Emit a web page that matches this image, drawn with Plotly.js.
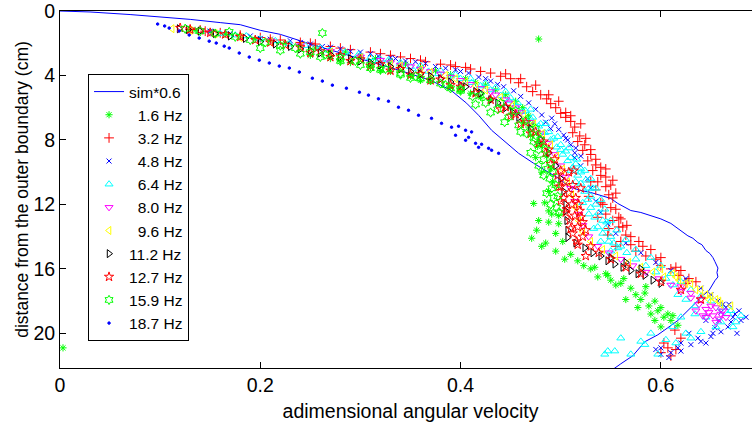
<!DOCTYPE html>
<html>
<head>
<meta charset="utf-8">
<script src="https://cdn.plot.ly/plotly-3.0.1.min.js"></script>
<style>
html,body{margin:0;padding:0;background:#fff;overflow:hidden;width:752px;height:436px;}
#chart{width:770px;height:436px;}
</style>
</head>
<body>
<div id="chart"></div>
<script>
// ---- data ----
const legendNames = ['sim*0.6','\u20071.6 Hz','\u20073.2 Hz','\u20074.8 Hz','\u20076.4 Hz','\u20078.0 Hz','\u20079.6 Hz','11.2 Hz','12.7 Hz','15.9 Hz','18.7 Hz'];
const xTickVals = [0, 0.2, 0.4, 0.6];
const xTickText = ['0', '0.2', '0.4', '0.6'];
const yTickVals = [0, 4, 8, 12, 16, 20];
const yTickText = ['0', '4', '8', '12', '16', '20'];

const simX = [0,0.03,0.07,0.1,0.13,0.16,0.18,0.2,0.22,0.25,0.28,0.31,0.34,0.37,0.39,0.406,0.418,0.431,0.445,0.458,0.473,0.485,0.498,0.51,0.52,0.53,0.542,0.55,0.557,0.57,0.58,0.592,0.6,0.61,0.62,0.627,0.632,0.637,0.641,0.645,0.649,0.652,0.654,0.655,0.657,0.656,0.657,0.654,0.651,0.648,0.643,0.637,0.632,0.627,0.617,0.607,0.597,0.584,0.572,0.56,0.55,0.544];
const simY = [0,0.06,0.22,0.37,0.52,0.72,0.85,1.2,1.45,2.05,2.6,3.15,3.7,4.3,4.9,5.72,6.47,7.4,8.15,8.83,9.45,9.89,10.39,10.95,11.13,11.26,11.5,11.63,11.94,12.38,12.5,12.75,12.9,13.18,13.62,13.95,14.1,14.37,14.5,14.86,15.05,15.3,15.55,15.73,15.95,16.23,16.5,16.73,17.0,17.35,17.6,17.97,18.3,18.59,19.2,19.65,20.09,20.52,21.39,21.89,22.33,23.0];

const hz16X = [0.135,0.15,0.165,0.18,0.195,0.21,0.225,0.24,0.255,0.27,0.285,0.3,0.315,0.33,0.345,0.36,0.375,0.39,0.405,0.415,0.425,0.435,0.445,0.455,0.462,0.468,0.472,0.478,0.482,0.486,0.49,0.492,0.488,0.473,0.478,0.471,0.488,0.498,0.485,0.495,0.504,0.534,0.547,0.517,0.53,0.537,0.55,0.57,0.584,0.594,0.6,0.59,0.594,0.607,0.491,0.484,0.498,0.476,0.481,0.488,0.495,0.502,0.51,0.523,0.545,0.56,0.575,0.58,0.588,0.597,0.61,0.617,0.603,0.585,0.563,0.555,0.478,0.003,
  0.25,0.27,0.29,0.31,0.33,0.35,0.37,0.39,0.41,0.43,0.45,0.463,0.47,0.477,0.468,0.475,0.481,0.565,0.577,0.6,0.612,0.28,0.32,0.36,0.4,0.42];
const hz16Y = [1.2,1.3,1.45,1.55,1.75,1.85,2.0,2.1,2.3,2.45,2.55,2.8,2.95,3.1,3.3,3.5,3.7,3.95,4.2,4.45,4.6,4.9,5.2,5.6,6.0,6.5,7.0,7.6,8.3,9.0,9.8,10.6,11.2,11.94,13.0,14.1,12.4,13.2,14.4,14.9,15.4,15.9,16.4,15.5,16.0,16.5,16.7,17.2,17.5,18.0,18.4,18.8,19.2,18.8,12.6,11.9,12.7,13.6,14.6,13.1,13.8,14.3,15.1,15.8,16.3,16.9,17.6,17.9,18.3,18.6,19.2,19.5,19.0,17.1,16.6,17.0,1.74,20.9,
  2.75,2.95,3.2,3.5,3.75,4.05,4.35,4.75,5.1,5.5,6.0,6.9,7.7,8.4,7.2,9.1,10.0,17.9,18.4,19.6,18.9,3.15,3.7,4.3,4.95,5.35];

const hz32X = [0.13,0.145,0.16,0.18,0.2,0.22,0.24,0.255,0.27,0.29,0.31,0.33,0.35,0.365,0.38,0.395,0.41,0.42,0.43,0.44,0.45,0.458,0.466,0.472,0.48,0.486,0.49,0.495,0.5,0.505,0.51,0.514,0.512,0.519,0.517,0.524,0.522,0.53,0.527,0.535,0.532,0.54,0.537,0.545,0.535,0.548,0.54,0.55,0.545,0.552,0.548,0.558,0.565,0.56,0.57,0.575,0.582,0.585,0.595,0.6,0.61,0.618,0.628,0.625,0.545,0.552,0.555,0.53,0.528,0.537,0.6,0.607,0.615,0.614,0.62,0.61,0.603,
  0.525,0.53,0.535,0.54,0.545,0.55,0.552,0.555,0.558,0.562,0.57,0.578,0.59,0.6,0.615,0.62,0.635,0.505,0.51,0.52,0.498,0.488,0.475,0.46,0.445,0.21,0.25,0.28,0.32,0.34,0.36,0.39,0.405,0.542,0.56,0.566,0.555,0.547];
const hz32Y = [1.15,1.25,1.35,1.5,1.65,1.8,1.95,2.05,2.2,2.4,2.55,2.75,2.95,3.15,3.3,3.45,3.6,3.75,3.85,4.05,4.2,4.45,4.7,5.0,5.2,5.45,5.75,6.0,6.35,6.6,6.85,7.2,7.55,7.75,8.1,8.3,8.65,8.9,9.3,9.55,9.9,10.2,10.6,10.9,11.1,11.4,11.9,12.2,12.6,13.0,13.5,13.4,13.9,14.3,14.5,14.9,14.6,15.2,15.4,15.8,16.0,16.4,16.6,16.9,9.8,10.5,11.3,10.6,11.5,12.8,21.2,20.9,21.0,19.8,20.3,21.4,20.6,
  7.9,8.6,9.2,9.7,10.3,10.8,11.6,12.3,12.8,13.4,14.0,14.3,14.8,15.3,15.9,16.1,16.8,6.3,6.5,7.0,5.6,5.2,4.6,4.2,3.9,1.75,2.0,2.3,2.65,2.85,3.05,3.35,3.5,12.0,12.9,13.3,14.6,13.9];

const hz48X = [0.15,0.17,0.19,0.21,0.23,0.25,0.262,0.28,0.3,0.318,0.33,0.345,0.365,0.375,0.385,0.395,0.408,0.418,0.43,0.443,0.453,0.46,0.468,0.475,0.481,0.491,0.494,0.498,0.503,0.507,0.51,0.514,0.514,0.52,0.527,0.53,0.535,0.54,0.547,0.555,0.565,0.58,0.595,0.61,0.625,0.64,0.65,0.657,0.665,0.674,0.68,0.672,0.66,0.654,0.645,0.637,0.645,0.628,0.617,0.6,0.595,0.608,0.667,0.676,0.65,0.662,
  0.2,0.24,0.27,0.29,0.31,0.335,0.355,0.4,0.425,0.437,0.485,0.49,0.505,0.515,0.52,0.668,0.678,0.685,0.67,0.66,0.652,0.64,0.63,0.62,0.61,0.62,0.6,0.658];
const hz48Y = [1.25,1.4,1.55,1.75,1.85,2.05,2.2,2.35,2.55,2.8,2.9,3.1,3.25,3.45,3.55,3.65,3.85,4.1,4.35,4.7,4.95,5.3,5.7,6.1,6.45,6.65,7.0,7.35,7.7,8.0,8.3,8.8,9.1,9.6,10.4,11.0,11.8,12.5,13.2,13.8,14.4,15.0,15.6,16.1,16.6,17.2,17.6,18.0,18.4,18.8,19.2,19.0,18.7,19.65,19.2,20.3,20.6,20.0,20.9,21.3,21.0,21.5,19.6,20.0,20.2,18.2,
  1.7,1.95,2.25,2.5,2.65,2.95,3.15,3.75,4.2,4.55,6.9,7.3,7.9,8.5,9.0,18.2,18.6,19.0,19.3,19.9,20.0,20.5,20.7,21.1,21.2,20.6,20.9,19.2];

const hz64X = [0.14,0.16,0.175,0.186,0.2,0.215,0.229,0.245,0.26,0.269,0.285,0.298,0.31,0.318,0.328,0.34,0.35,0.358,0.368,0.378,0.39,0.4,0.411,0.42,0.43,0.44,0.448,0.455,0.462,0.47,0.478,0.484,0.49,0.496,0.502,0.507,0.512,0.517,0.52,0.524,0.527,0.53,0.534,0.537,0.542,0.548,0.557,0.566,0.575,0.585,0.595,0.605,0.612,0.617,0.625,0.634,0.634,0.645,0.667,0.66,0.672,0.62,0.612,0.625,0.56,0.547,0.58,0.597,0.57,0.584,0.544,0.554,0.59,0.605,0.5,0.51,0.515,0.522,0.528,0.533,0.54,0.55,0.532,0.52,0.546,
  0.45,0.457,0.465,0.472,0.48,0.488,0.493,0.5,0.505,0.51,0.515,0.52,0.525,0.528,0.53,0.535,0.538,0.542,0.545,0.55,0.553,0.56,0.47,0.485,0.497,0.508,0.516,0.524,0.53,0.535,0.54,0.544,0.55,0.556,0.565,0.575,0.59,0.6,0.61,0.62,0.63,0.64,0.65,0.66,0.67,0.68,0.675,0.655,0.64,0.63,0.615,
  0.3,0.32,0.34,0.36,0.38,0.395,0.41,0.425,0.435,0.445];
const hz64Y = [1.25,1.4,1.5,1.55,1.75,1.85,2.05,2.15,2.3,2.45,2.55,2.7,2.9,3.1,3.05,3.3,3.45,3.6,3.75,3.9,4.05,4.2,4.45,4.65,4.9,5.25,5.55,5.9,6.25,6.7,7.15,7.55,8.0,8.45,8.9,9.3,9.7,10.2,10.7,11.2,11.7,12.2,12.8,13.4,13.8,14.3,14.7,15.0,15.4,15.8,16.2,16.6,17.0,17.6,17.9,18.3,18.8,19.0,18.8,19.3,19.6,19.0,19.6,20.0,20.3,21.1,20.5,21.3,21.3,20.7,21.3,21.1,20.0,20.4,8.6,9.9,10.6,11.9,12.6,13.5,14.3,14.9,11.0,9.8,13.1,
  5.4,5.7,6.2,6.6,7.0,7.5,7.9,8.3,8.7,9.1,9.5,10.0,10.5,11.0,11.5,12.0,12.5,13.0,13.5,14.0,14.4,14.6,6.1,7.0,7.8,8.5,9.2,9.9,10.4,11.0,11.7,12.3,13.0,13.6,14.2,14.8,15.3,15.8,16.3,16.8,17.3,17.7,18.0,18.4,18.6,18.9,19.3,19.6,19.9,20.3,20.6,
  2.85,3.0,3.2,3.4,3.7,3.95,4.2,4.5,4.75,5.0];

const hz80X = [0.15,0.18,0.21,0.24,0.27,0.3,0.33,0.36,0.38,0.4,0.42,0.435,0.448,0.46,0.47,0.48,0.488,0.494,0.5,0.505,0.51,0.514,0.518,0.522,0.528,0.537,0.548,0.56,0.572,0.585,0.598,0.61,0.62,0.63,0.638,0.645,0.652,0.658,0.648,0.655,0.642,0.635,0.662,
  0.32,0.34,0.35,0.37,0.39,0.41,0.43,0.445,0.455,0.62,0.63,0.64,0.65,0.66,0.645,0.655,0.665];
const hz80Y = [1.35,1.6,1.85,2.15,2.5,2.85,3.2,3.6,3.9,4.3,4.8,5.2,5.7,6.3,6.9,7.6,8.2,8.9,9.6,10.3,11.0,11.8,12.6,13.3,14.0,14.6,15.0,15.4,15.8,16.2,16.6,17.0,17.4,17.8,18.2,18.5,18.9,19.1,18.7,18.4,18.9,18.6,18.6,
  3.05,3.35,3.45,3.75,4.1,4.55,5.0,5.5,6.0,17.1,17.5,17.9,18.3,18.8,19.0,19.3,19.0];

const hz96X = [0.112,0.13,0.155,0.18,0.21,0.24,0.27,0.3,0.33,0.36,0.385,0.405,0.425,0.44,0.452,0.463,0.473,0.482,0.49,0.496,0.502,0.507,0.511,0.515,0.518,0.522,0.53,0.542,0.555,0.568,0.58,0.592,0.603,0.612,0.618,0.625,0.635,0.645,0.655,0.66,0.648,
  0.34,0.37,0.395,0.415,0.6,0.615,0.63,0.64,0.65,0.658,0.67];
const hz96Y = [1.1,1.2,1.4,1.65,1.9,2.2,2.55,2.9,3.3,3.65,4.0,4.4,4.9,5.35,5.85,6.4,7.0,7.6,8.3,9.0,9.8,10.6,11.4,12.2,13.0,13.7,14.3,14.8,15.2,15.6,15.9,16.2,16.5,16.3,16.7,16.9,17.3,17.6,17.9,18.2,17.9,
  3.4,3.8,4.2,4.65,16.0,16.5,16.9,17.3,17.7,18.0,18.3];

const hz112X = [0.119,0.128,0.14,0.155,0.17,0.185,0.2,0.215,0.23,0.25,0.27,0.29,0.31,0.33,0.35,0.37,0.39,0.405,0.415,0.43,0.445,0.458,0.47,0.48,0.488,0.495,0.5,0.503,0.505,0.505,0.506,0.507,0.507,0.515,0.524,0.532,0.54,0.547,0.554,0.562,0.57,0.577,0.584,0.592,0.6,0.55,0.565,0.58,
  0.24,0.26,0.28,0.3,0.32,0.34,0.36,0.38,0.4,0.42,0.437,0.452];
const hz112Y = [1.1,1.15,1.25,1.4,1.55,1.7,1.9,2.05,2.2,2.45,2.7,2.95,3.2,3.45,3.75,4.05,4.4,4.7,5.0,5.5,6.0,6.6,7.3,8.0,8.8,9.6,10.4,11.2,12.0,12.4,13.0,13.6,14.05,14.4,14.7,15.0,15.2,15.5,15.7,15.9,16.1,16.3,16.4,16.7,16.9,15.3,15.6,16.0,
  2.35,2.6,2.85,3.1,3.35,3.6,3.9,4.2,4.6,5.1,5.7,6.3];

const hz127X = [0.12,0.13,0.14,0.15,0.165,0.18,0.195,0.21,0.225,0.24,0.26,0.28,0.3,0.32,0.34,0.36,0.38,0.4,0.415,0.43,0.445,0.455,0.465,0.475,0.483,0.488,0.494,0.5,0.504,0.508,0.511,0.514,0.517,0.522,0.53,0.508,0.512,0.515,0.519,0.522,0.505,0.51,0.5,0.498,0.538,0.517,0.525,0.55,0.565,0.58,0.6,0.62,0.64,
  0.44,0.45,0.46,0.47,0.478,0.485,0.49,0.497,0.5,0.503,0.506,0.509,0.512,0.516,0.52,0.518,0.52,0.525,0.513,0.25,0.27,0.29,0.31,0.33,0.35,0.37,0.39];
const hz127Y = [1.05,1.15,1.2,1.35,1.45,1.6,1.8,1.95,2.1,2.25,2.5,2.75,3.0,3.3,3.6,3.9,4.25,4.7,5.1,5.5,5.95,6.4,6.9,7.5,8.1,8.6,9.2,9.9,10.6,11.3,12.0,12.7,13.4,14.0,14.6,10.0,10.8,11.6,12.4,13.1,12.5,13.5,11.8,10.9,15.0,14.5,15.2,15.4,15.9,16.3,16.8,17.3,17.9,
  6.1,6.5,7.0,7.6,8.2,8.8,9.5,10.2,10.9,11.6,12.3,13.0,13.8,14.3,11.0,12.0,12.8,13.6,9.9,2.6,2.85,3.1,3.4,3.7,3.95,4.3,4.6];

const hz159X = [0.125,0.14,0.155,0.169,0.175,0.19,0.205,0.22,0.235,0.25,0.262,0.265,0.28,0.295,0.31,0.325,0.34,0.355,0.37,0.385,0.4,0.412,0.425,0.437,0.448,0.458,0.466,0.473,0.478,0.483,0.487,0.489,0.491,0.493,0.496,0.498,0.483,0.486,0.49,0.478,0.47,0.475,0.46,0.444,0.43,0.415,
  0.2,0.22,0.24,0.26,0.28,0.3,0.32,0.34,0.36,0.38,0.4,0.42,0.44,0.455,0.465,0.475,0.48,0.485,0.49,0.492,0.495,0.497,0.31,0.35,0.39];
const hz159Y = [1.1,1.25,1.4,1.3,1.6,1.8,1.95,2.15,2.3,2.55,1.37,2.7,2.9,3.1,3.35,3.6,3.85,4.05,4.3,4.6,4.95,5.3,5.7,6.1,6.6,7.1,7.6,8.1,8.6,9.2,9.8,10.4,11.0,11.6,12.2,12.5,10.2,11.3,12.0,9.6,8.8,7.9,7.5,6.9,6.3,5.8,
  2.3,2.45,2.65,2.85,3.1,3.35,3.65,3.95,4.2,4.5,4.85,5.25,5.7,6.2,6.8,7.3,8.0,8.6,9.4,10.0,10.8,11.5,3.55,4.15,4.8];

const hz187X = [0.0975,0.1045,0.109,0.119,0.129,0.139,0.149,0.156,0.164,0.169,0.179,0.189,0.199,0.209,0.219,0.229,0.239,0.252,0.262,0.272,0.286,0.299,0.308,0.318,0.328,0.338,0.348,0.358,0.371,0.381,0.391,0.398,0.405,0.395,0.408,0.411,0.415,0.418,0.405,0.421,0.428,0.431,0.438];
const hz187Y = [0.81,0.93,1.06,1.24,1.49,1.68,1.87,1.99,2.18,2.3,2.61,2.86,3.05,3.23,3.42,3.54,3.79,4.17,4.35,4.6,4.79,5.04,5.22,5.45,5.6,5.97,6.16,6.47,6.66,6.97,7.21,7.15,7.4,7.71,7.84,7.5,8.21,8.46,8.02,8.27,8.52,8.64,8.83];

// ---- traces ----
const F = '"Liberation Sans", Arial, Helvetica, sans-serif';
function pts(x, y, name, symbol, color, size, group) {
  return {x: x, y: y, type: 'scatter', mode: 'markers', name: name, legendgroup: group,
    marker: {symbol: symbol, color: color, size: size, line: {color: color, width: 1}}};
}
const traces = [
  {x: simX, y: simY, type: 'scatter', mode: 'lines', name: legendNames[0], legendgroup: 'g0',
   line: {color: '#0000ff', width: 1}},
  pts(hz16X, hz16Y, legendNames[1], 'asterisk-open', '#00ff00', 6, 'g1'),
  pts(hz32X, hz32Y, legendNames[2], 'cross-thin-open', '#ff0000', 7, 'g2'),
  pts(hz48X, hz48Y, legendNames[3], 'x-thin-open', '#0000ff', 5, 'g3'),
  pts(hz64X, hz64Y, legendNames[4], 'triangle-up-open', '#00ffff', 7, 'g4'),
  pts(hz80X, hz80Y, legendNames[5], 'triangle-down-open', '#ff00ff', 7, 'g5'),
  pts(hz96X, hz96Y, legendNames[6], 'triangle-left-open', '#ffff00', 7, 'g6'),
  pts(hz112X, hz112Y, legendNames[7], 'triangle-right-open', '#000000', 7, 'g7'),
  pts(hz127X, hz127Y, legendNames[8], 'star-open', '#ff0000', 7, 'g8'),
  pts(hz159X, hz159Y, legendNames[9], 'hexagram-open', '#00ff00', 7, 'g9'),
  pts(hz187X, hz187Y, legendNames[10], 'circle', '#0000ff', 2.5, 'g10')
];

const layout = {
  width: 770, height: 436,
  margin: {l: 60, r: 9, t: 11, b: 68},
  paper_bgcolor: '#ffffff', plot_bgcolor: '#ffffff',
  font: {family: F, size: 18, color: '#000000'},
  showlegend: true,
  legend: {x: 0.04, y: 0.8235, xanchor: 'left', yanchor: 'top', bgcolor: '#ffffff',
    bordercolor: '#000000', borderwidth: 1, font: {family: F, size: 15.5, color: '#000000'},
    traceorder: 'normal', itemwidth: 30},
  xaxis: {range: [0, 0.7], tickvals: xTickVals, ticktext: xTickText, ticks: 'inside', ticklen: 6,
    tickcolor: '#000000', showline: true, linecolor: '#000000', linewidth: 1, mirror: 'ticks',
    showgrid: false, zeroline: false, tickfont: {size: 19.5}, ticklabeloverflow: 'allow',
    title: {text: 'adimensional angular velocity', font: {size: 19.5}, standoff: 8}},
  yaxis: {range: [22.15, 0], tickvals: yTickVals, ticktext: yTickText, ticks: 'inside', ticklen: 6,
    tickcolor: '#000000', showline: true, linecolor: '#000000', linewidth: 1, mirror: 'ticks',
    showgrid: false, zeroline: false, tickfont: {size: 19.5}, ticklabeloverflow: 'allow',
    title: {text: 'distance from the outer boundary (cm)', font: {size: 17.5}, standoff: 0}}
};
Plotly.newPlot('chart', traces, layout, {displayModeBar: false, staticPlot: true});
</script>
</body>
</html>
